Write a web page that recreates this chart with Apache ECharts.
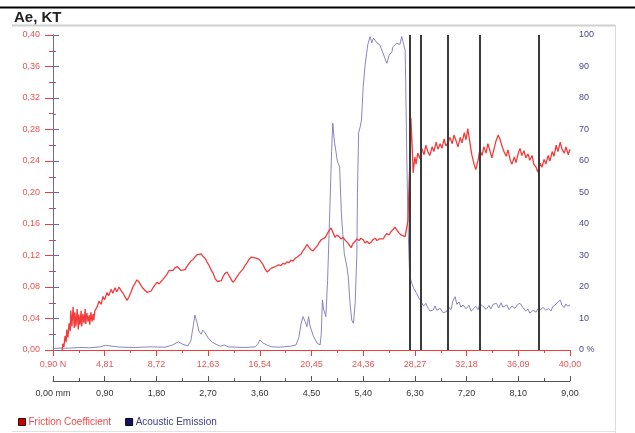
<!DOCTYPE html>
<html>
<head>
<meta charset="utf-8">
<script src="https://cdn.jsdelivr.net/npm/echarts@6/dist/echarts.min.js"></script>
<style>
html,body{margin:0;padding:0;background:#fff;}
#c{width:635px;height:433px;}
</style>
</head>
<body>
<div id="c"></div>
<script>
// ---- DATA ----
var title = 'Ae, KT';
var loadLabels = ['0,90 N','4,81','8,72','12,63','16,54','20,45','24,36','28,27','32,18','36,09','40,00'];
var distLabels = ['0,00 mm','0,90','1,80','2,70','3,60','4,50','5,40','6,30','7,20','8,10','9,00'];
var fricLabels = ['0,00','0,04','0,08','0,12','0,16','0,20','0,24','0,28','0,32','0,36','0,40'];
var aeLabels = ['0 %','10','20','30','40','50','60','70','80','90','100'];
var seriesNames = ['Friction Coefficient','Acoustic Emission'];
var markerPositions = [6.21, 6.40, 6.87, 7.43, 8.46]; // mm

// Friction coefficient [distance mm, value]
var friction = [
[0.16,0.000],[0.17,0.008],[0.19,0.004],[0.21,0.018],[0.23,0.010],[0.24,0.026],[0.26,0.016],[0.28,0.034],[0.30,0.024],
[0.31,0.050],[0.33,0.030],[0.35,0.055],[0.37,0.028],[0.38,0.048],[0.40,0.030],[0.42,0.052],[0.44,0.026],[0.45,0.045],
[0.47,0.032],[0.49,0.050],[0.50,0.030],[0.52,0.046],[0.54,0.034],[0.56,0.052],[0.57,0.033],[0.59,0.047],[0.61,0.036],
[0.63,0.044],[0.64,0.032],[0.66,0.048],[0.68,0.036],[0.70,0.046],[0.71,0.038],[0.73,0.050],[0.77,0.055],[0.80,0.062],
[0.84,0.058],[0.87,0.068],[0.90,0.064],[0.94,0.073],[0.97,0.069],[1.01,0.077],[1.04,0.072],[1.08,0.079],[1.11,0.074],
[1.15,0.080],[1.18,0.076],[1.22,0.072],[1.25,0.068],[1.29,0.063],[1.32,0.067],[1.36,0.074],[1.39,0.080],[1.43,0.085],
[1.46,0.089],[1.50,0.086],[1.53,0.082],[1.57,0.078],[1.60,0.076],[1.64,0.073],[1.67,0.071],[1.71,0.075],[1.74,0.079],
[1.78,0.083],[1.81,0.086],[1.85,0.084],[1.88,0.087],[1.92,0.090],[1.95,0.093],[1.99,0.097],[2.02,0.101],[2.05,0.103],
[2.09,0.101],[2.12,0.104],[2.16,0.106],[2.19,0.104],[2.23,0.101],[2.26,0.099],[2.30,0.102],[2.33,0.106],[2.37,0.110],
[2.40,0.113],[2.44,0.115],[2.47,0.118],[2.51,0.121],[2.54,0.120],[2.58,0.122],[2.61,0.119],[2.65,0.116],[2.68,0.112],
[2.72,0.107],[2.75,0.102],[2.79,0.097],[2.82,0.091],[2.86,0.087],[2.89,0.085],[2.93,0.088],[2.96,0.093],[2.99,0.097],
[3.03,0.099],[3.06,0.095],[3.10,0.090],[3.13,0.086],[3.17,0.089],[3.20,0.093],[3.24,0.097],[3.27,0.099],[3.31,0.103],
[3.34,0.107],[3.38,0.111],[3.41,0.115],[3.45,0.118],[3.48,0.119],[3.52,0.117],[3.55,0.118],[3.59,0.115],[3.62,0.113],
[3.66,0.108],[3.69,0.103],[3.73,0.099],[3.76,0.101],[3.80,0.104],[3.83,0.103],[3.87,0.106],[3.90,0.105],[3.93,0.108],
[3.97,0.107],[4.00,0.110],[4.04,0.109],[4.07,0.112],[4.11,0.111],[4.14,0.114],[4.18,0.113],[4.21,0.116],[4.25,0.118],
[4.28,0.117],[4.32,0.122],[4.35,0.126],[4.39,0.130],[4.42,0.134],[4.46,0.130],[4.49,0.127],[4.53,0.126],[4.56,0.129],
[4.60,0.132],[4.63,0.136],[4.67,0.140],[4.70,0.139],[4.74,0.143],[4.77,0.147],[4.80,0.151],[4.84,0.155],[4.87,0.150],
[4.91,0.143],[4.94,0.146],[4.98,0.144],[5.01,0.141],[5.05,0.143],[5.08,0.140],[5.12,0.137],[5.15,0.134],[5.19,0.130],
[5.22,0.135],[5.26,0.138],[5.29,0.141],[5.33,0.139],[5.36,0.142],[5.40,0.140],[5.43,0.136],[5.47,0.138],[5.50,0.135],
[5.54,0.137],[5.57,0.140],[5.61,0.142],[5.64,0.139],[5.68,0.141],[5.71,0.143],[5.75,0.141],[5.78,0.145],[5.81,0.148],
[5.85,0.146],[5.88,0.150],[5.92,0.153],[5.95,0.156],[5.99,0.152],[6.02,0.149],[6.06,0.146],[6.09,0.148],[6.13,0.144],
[6.16,0.142],[6.18,0.165],[6.20,0.215],[6.22,0.250],[6.23,0.295],[6.25,0.262],[6.27,0.225],[6.28,0.232],[6.30,0.245],
[6.32,0.236],[6.35,0.250],[6.39,0.243],[6.42,0.256],[6.46,0.248],[6.49,0.260],[6.53,0.251],[6.56,0.247],[6.60,0.258],
[6.63,0.252],[6.67,0.264],[6.70,0.255],[6.74,0.262],[6.77,0.256],[6.81,0.268],[6.84,0.259],[6.88,0.264],[6.91,0.270],
[6.95,0.262],[6.98,0.273],[7.02,0.265],[7.05,0.258],[7.09,0.270],[7.12,0.263],[7.16,0.276],[7.19,0.267],[7.22,0.281],
[7.26,0.262],[7.29,0.248],[7.33,0.236],[7.36,0.229],[7.40,0.241],[7.43,0.254],[7.47,0.247],[7.50,0.258],[7.54,0.250],
[7.57,0.262],[7.61,0.252],[7.64,0.244],[7.68,0.256],[7.71,0.265],[7.75,0.273],[7.78,0.268],[7.82,0.258],[7.85,0.252],
[7.89,0.246],[7.92,0.254],[7.96,0.241],[7.99,0.236],[8.03,0.245],[8.06,0.238],[8.10,0.250],[8.13,0.256],[8.16,0.247],
[8.20,0.253],[8.23,0.244],[8.27,0.249],[8.30,0.241],[8.34,0.247],[8.37,0.236],[8.41,0.232],[8.44,0.226],[8.48,0.237],
[8.51,0.232],[8.55,0.242],[8.58,0.236],[8.62,0.247],[8.65,0.240],[8.69,0.252],[8.72,0.246],[8.76,0.260],[8.79,0.252],
[8.83,0.264],[8.86,0.255],[8.90,0.250],[8.93,0.258],[8.97,0.248],[9.00,0.255]
];

// Acoustic emission [distance mm, %]
var acoustic = [
[0.00,0.5],[0.12,0.6],[0.30,0.6],[0.47,0.8],[0.64,0.7],[0.82,1.0],[0.92,1.5],[1.03,1.2],[1.17,0.9],[1.43,0.8],
[1.69,1.0],[1.95,0.9],[2.07,1.5],[2.18,2.6],[2.26,1.8],[2.35,1.3],[2.40,3.0],[2.44,7.5],[2.47,11.1],[2.51,8.5],
[2.54,6.0],[2.58,5.0],[2.61,6.3],[2.65,5.4],[2.70,3.8],[2.77,2.5],[2.84,1.8],[2.91,1.2],[2.98,1.6],[3.05,1.0],
[3.17,0.9],[3.34,0.8],[3.52,1.0],[3.57,2.0],[3.60,3.2],[3.66,2.2],[3.73,1.5],[3.81,1.0],[3.95,0.9],[4.13,1.2],
[4.23,1.6],[4.28,4.0],[4.32,8.5],[4.35,10.6],[4.39,9.0],[4.42,7.4],[4.45,10.6],[4.47,8.0],[4.53,4.5],[4.60,2.1],
[4.65,1.6],[4.67,5.0],[4.69,15.9],[4.71,13.0],[4.75,10.6],[4.78,22.0],[4.82,45.0],[4.85,63.0],[4.87,72.0],[4.90,66.0],
[4.93,62.5],[4.95,60.0],[4.99,58.0],[5.02,43.4],[5.04,38.0],[5.07,30.7],[5.12,26.0],[5.14,23.3],[5.17,15.0],[5.20,9.5],
[5.23,8.5],[5.26,15.0],[5.29,30.7],[5.30,50.0],[5.32,68.9],[5.35,71.0],[5.37,73.0],[5.40,83.6],[5.43,90.0],[5.46,94.2],
[5.48,97.0],[5.52,99.5],[5.55,97.5],[5.58,99.0],[5.61,98.4],[5.64,97.5],[5.69,96.8],[5.75,94.0],[5.81,91.0],[5.85,93.5],
[5.90,94.7],[5.92,96.3],[5.95,96.0],[5.98,97.4],[6.00,98.0],[6.04,97.0],[6.07,99.5],[6.09,98.0],[6.13,95.2],[6.14,85.0],
[6.16,60.0],[6.18,40.0],[6.20,28.0],[6.21,23.3],[6.25,21.0],[6.28,19.5],[6.33,18.0],[6.37,16.5],[6.41,15.3],[6.45,14.0],
[6.49,14.8],[6.53,13.2],[6.56,12.4],[6.62,12.7],[6.65,14.0],[6.68,12.6],[6.74,13.2],[6.79,11.8],[6.85,12.2],[6.89,13.5],
[6.93,12.8],[6.96,15.5],[7.00,16.9],[7.03,14.5],[7.07,15.2],[7.10,13.6],[7.14,14.3],[7.19,13.1],[7.24,14.2],[7.28,12.3],
[7.31,12.7],[7.36,13.9],[7.40,12.8],[7.43,14.6],[7.49,13.8],[7.54,12.9],[7.59,14.1],[7.62,13.0],[7.66,14.5],[7.72,14.8],
[7.76,13.4],[7.80,15.0],[7.83,13.6],[7.90,14.3],[7.94,12.8],[7.99,14.0],[8.04,13.2],[8.09,14.5],[8.13,14.8],[8.18,13.5],
[8.23,12.4],[8.27,13.0],[8.30,11.7],[8.36,12.6],[8.41,12.0],[8.44,13.1],[8.48,12.7],[8.53,13.5],[8.58,12.6],[8.63,13.2],
[8.67,12.4],[8.70,13.8],[8.76,14.6],[8.79,15.2],[8.83,15.9],[8.86,14.2],[8.90,13.5],[8.93,14.6],[8.96,13.9],[9.00,14.3]
];

// ---- CHART ----
var RED = '#f23c3c', RED_TXT = '#e85555', BLUE = '#7a7ab8', BLUE_AX = '#6a6aa8', BLUE_TXT = '#4a4a8c';
var FONT = '"Liberation Sans", Arial, sans-serif';
var chart = echarts.init(document.getElementById('c'), null, {renderer:'canvas'});

chart.setOption({
  animation: false,
  backgroundColor: '#ffffff',
  textStyle: {fontFamily: FONT},
  grid: {left: 53, right: 65, top: 35, bottom: 83, containLabel: false},
  graphic: [
    {type:'line', shape:{x1:0,y1:7.5,x2:635,y2:7.5}, style:{stroke:'#000',lineWidth:2}},
    {type:'text', left:14, top:10, style:{text:title, fill:'#222', font:'bold 15px ' + FONT}},
    {type:'line', shape:{x1:12,y1:25.5,x2:615,y2:25.5}, style:{stroke:'#cfcfcf',lineWidth:2}},
    {type:'line', shape:{x1:615.5,y1:25,x2:615.5,y2:433}, style:{stroke:'#dcdcdc',lineWidth:1}},
    {type:'line', shape:{x1:12,y1:431.5,x2:615,y2:431.5}, style:{stroke:'#e2e2e2',lineWidth:1}}
  ],
  legend: {
    left: 13, top: 412, itemWidth: 7, itemHeight: 7, itemGap: 14, icon: 'rect',
    textStyle: {fontSize: 10, fontFamily: FONT, padding:[0,0,0,-2]},
    data: [
      {name: seriesNames[0], itemStyle:{color:'#c80000', borderColor:'#3a0000', borderWidth:1}, textStyle:{color:'#f04a4a'}},
      {name: seriesNames[1], itemStyle:{color:'#14145e', borderColor:'#000020', borderWidth:1}, textStyle:{color:'#3e3e88'}}
    ]
  },
  xAxis: [
    {
      type:'value', position:'bottom', min:0, max:10, interval:1,
      axisLine:{show:true, onZero:false, lineStyle:{color:RED, width:1}},
      axisTick:{show:true, length:6, lineStyle:{color:RED}},
      minorTick:{show:true, splitNumber:2, length:3, lineStyle:{color:RED}},
      splitLine:{show:false}, minorSplitLine:{show:false},
      axisLabel:{color:RED_TXT, fontSize:9, margin:10, fontFamily:FONT,
        formatter:function(v){ return loadLabels[Math.round(v)]; }}
    },
    {
      type:'value', position:'bottom', offset:31, min:0, max:9, interval:0.9,
      axisLine:{show:true, onZero:false, lineStyle:{color:'#555', width:1}},
      axisTick:{show:true, inside:true, length:5, lineStyle:{color:'#555'}},
      minorTick:{show:true, splitNumber:2, length:3, lineStyle:{color:'#555'}},
      splitLine:{show:false}, minorSplitLine:{show:false},
      axisLabel:{color:'#333', fontSize:9, margin:8, fontFamily:FONT,
        formatter:function(v){ return distLabels[Math.round(v/0.9)]; }}
    }
  ],
  yAxis: [
    {
      type:'value', position:'left', min:0, max:0.4, interval:0.04,
      axisLine:{show:true, lineStyle:{color:RED, width:1}},
      axisTick:{show:true, length:8, lineStyle:{color:RED}},
      minorTick:{show:true, splitNumber:2, length:4, lineStyle:{color:RED}},
      splitLine:{show:false},
      axisLabel:{color:RED_TXT, fontSize:9, margin:13, fontFamily:FONT,
        formatter:function(v){ return fricLabels[Math.round(v/0.04)]; }}
    },
    {
      type:'value', position:'right', min:0, max:100, interval:10,
      axisLine:{show:true, lineStyle:{color:BLUE_AX, width:1}},
      axisTick:{show:true, length:6, lineStyle:{color:BLUE_AX}},
      minorTick:{show:true, splitNumber:2, length:3, lineStyle:{color:BLUE_AX}},
      splitLine:{show:false},
      axisLabel:{color:BLUE_TXT, fontSize:9, margin:9, fontFamily:FONT,
        formatter:function(v){ return aeLabels[Math.round(v/10)]; }}
    }
  ],
  series: [
    {
      name: seriesNames[1], type:'line', xAxisIndex:1, yAxisIndex:1,
      data: acoustic, showSymbol:false, symbol:'none', smooth:false,
      lineStyle:{color:BLUE, width:1, opacity:0.9}, itemStyle:{color:BLUE}, z:2
    },
    {
      name: seriesNames[0], type:'line', xAxisIndex:1, yAxisIndex:0,
      data: friction, showSymbol:false, symbol:'none', smooth:false,
      lineStyle:{color:RED, width:1.3}, itemStyle:{color:RED}, z:3,
      markLine: {
        silent:true, symbol:['none','none'], animation:false,
        label:{show:false},
        lineStyle:{color:'#3a3a3a', width:2, type:'solid'},
        data: markerPositions.map(function(p){ return {xAxis:p}; })
      }
    }
  ]
});
</script>
</body>
</html>
